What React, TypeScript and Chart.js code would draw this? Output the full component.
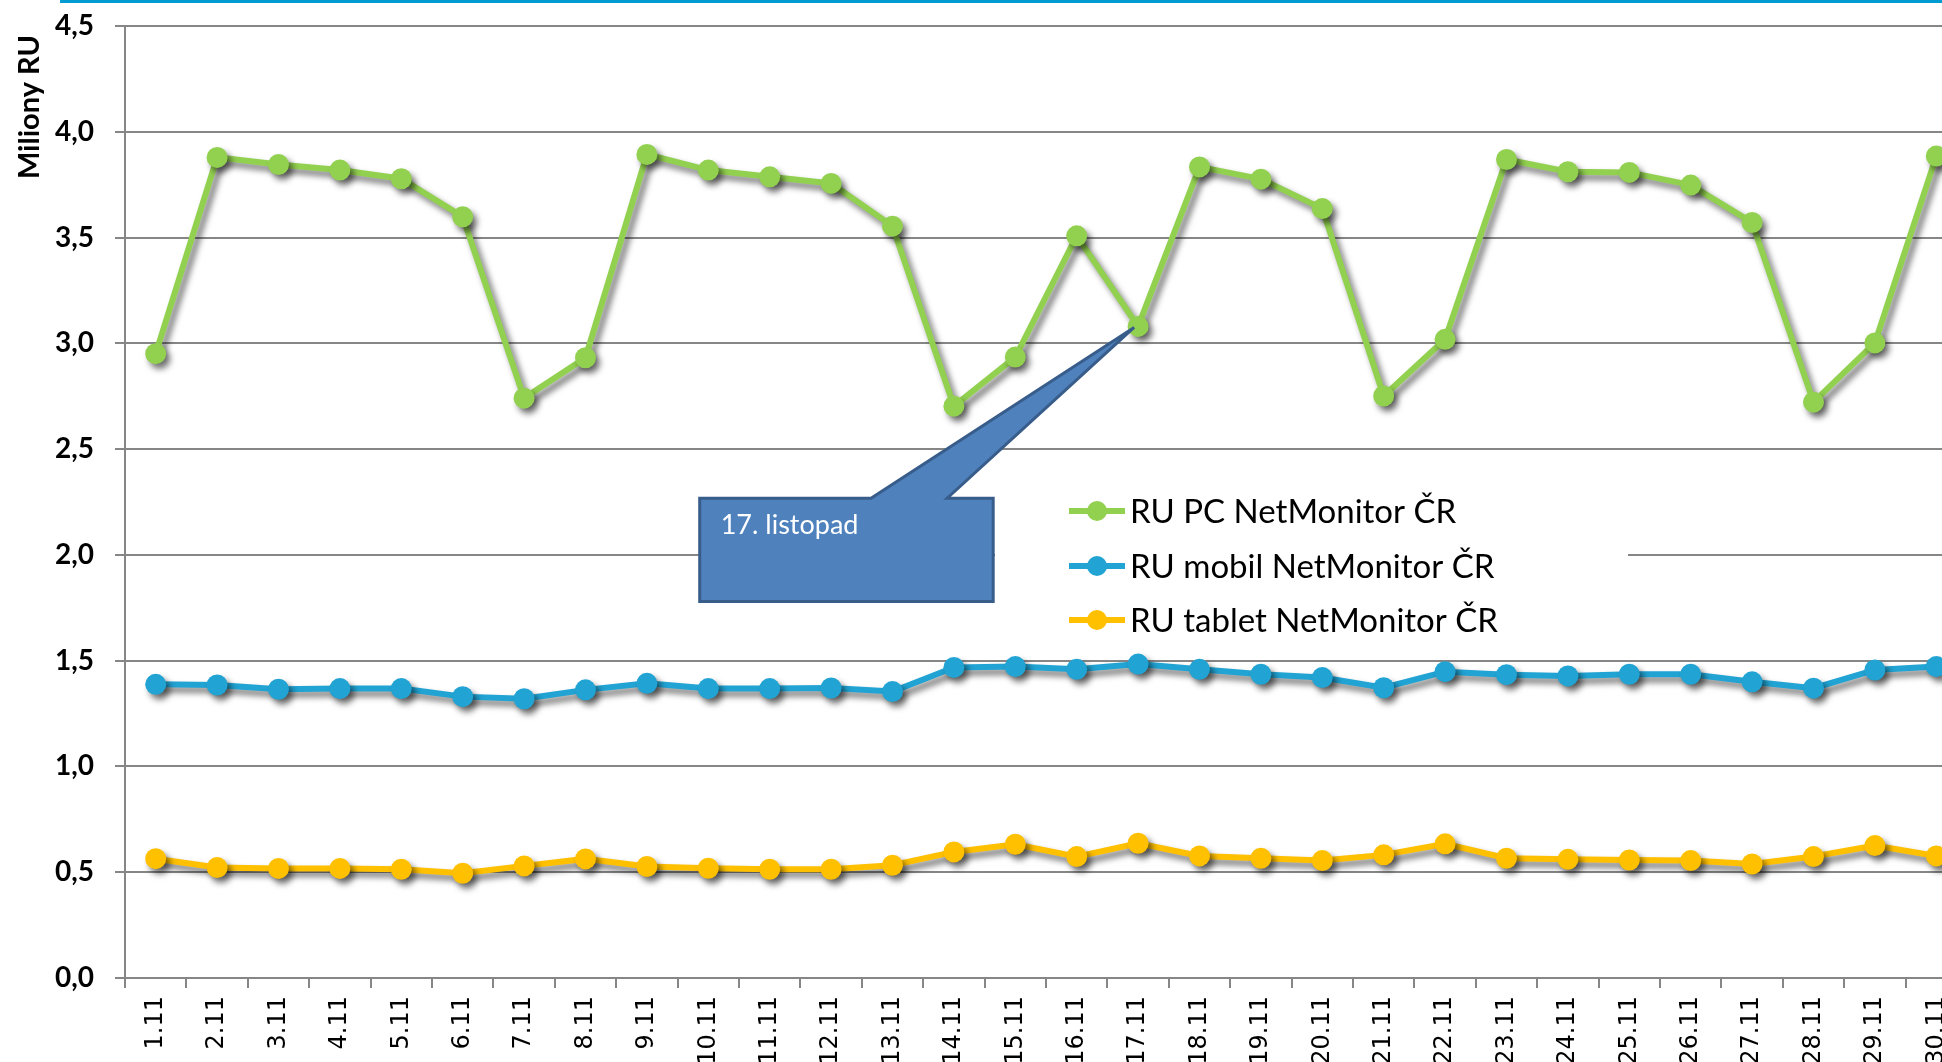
import React, { useEffect, useRef } from "react";
import { Chart, registerables } from "chart.js";

Chart.register(...registerables);

const categories = [
  "1.11", "2.11", "3.11", "4.11", "5.11", "6.11", "7.11", "8.11", "9.11", "10.11",
  "11.11", "12.11", "13.11", "14.11", "15.11", "16.11", "17.11", "18.11", "19.11", "20.11",
  "21.11", "22.11", "23.11", "24.11", "25.11", "26.11", "27.11", "28.11", "29.11", "30.11",
];

const pcValues = [
  2.951, 3.879, 3.845, 3.819, 3.778, 3.598, 2.741, 2.932, 3.893, 3.819,
  3.787, 3.756, 3.554, 2.703, 2.935, 3.508, 3.08, 3.834, 3.776, 3.637,
  2.751, 3.019, 3.869, 3.811, 3.808, 3.748, 3.571, 2.722, 3.002, 3.885,
];

const mobilValues = [
  1.388, 1.385, 1.365, 1.368, 1.368, 1.33, 1.32, 1.362, 1.393, 1.368,
  1.368, 1.371, 1.354, 1.468, 1.472, 1.459, 1.484, 1.459, 1.436, 1.42,
  1.372, 1.448, 1.434, 1.428, 1.436, 1.436, 1.4, 1.37, 1.456, 1.472,
];

const tabletValues = [
  0.564, 0.522, 0.518, 0.518, 0.514, 0.495, 0.53, 0.563, 0.527, 0.519,
  0.514, 0.514, 0.533, 0.596, 0.632, 0.574, 0.637, 0.577, 0.566, 0.555,
  0.582, 0.634, 0.566, 0.561, 0.558, 0.555, 0.539, 0.574, 0.626, 0.577,
];

const seriesNames = ["RU PC NetMonitor ČR", "RU mobil NetMonitor ČR", "RU tablet NetMonitor ČR"];
const seriesColors = ["#92D050", "#21A3D3", "#FFC000"];

const yAxisTitle = "Miliony RU";
const yMin = 0;
const yMax = 4.5;
const yStep = 0.5;

// Callout annotation (anchored to a data point, box given in data units)
const calloutText = "17. listopad";
const calloutIndex = 16;
const calloutBox = { xFrom: 8.86, xTo: 13.64, yTop: 2.268, yBottom: 1.78 };
const calloutBase = { xFrom: 11.65, xTo: 12.89 };

const W = 1985;
const H = 1062;
const AXIS_LEFT = 125;
const PAD_TOP = 26;
const AREA_BOTTOM = 978;
const AREA_RIGHT = 1967;

const GRID = "#868686";

const shadowPlugin = {
  id: "shadowPlugin",
  beforeDatasetDraw(chart: any) {
    const ctx = chart.ctx;
    ctx.save();
    ctx.shadowColor = "rgba(0,0,0,0.55)";
    ctx.shadowBlur = 6;
    ctx.shadowOffsetX = 4;
    ctx.shadowOffsetY = 5;
  },
  afterDatasetDraw(chart: any) {
    chart.ctx.restore();
  },
};

const titlePlugin = {
  id: "yTitle",
  afterDraw(chart: any) {
    const ctx = chart.ctx;
    const area = chart.chartArea;
    ctx.save();
    ctx.translate(30, area.top + 9);
    ctx.rotate(-Math.PI / 2);
    ctx.fillStyle = "#000000";
    ctx.font = "bold 29px Lato";
    ctx.textAlign = "right";
    ctx.textBaseline = "middle";
    ctx.fillText(yAxisTitle, 0, 0);
    ctx.restore();
  },
};

const legendPlugin = {
  id: "customLegend",
  afterDatasetsDraw(chart: any) {
    const ctx = chart.ctx;
    ctx.save();
    ctx.fillStyle = "#ffffff";
    ctx.fillRect(995, 470, 633, 178);
    const rows = [511, 566, 620];
    chart.data.datasets.forEach((ds: any, i: number) => {
      const y = rows[i];
      ctx.strokeStyle = ds.borderColor;
      ctx.lineWidth = 6;
      ctx.beginPath();
      ctx.moveTo(1069, y);
      ctx.lineTo(1125, y);
      ctx.stroke();
      ctx.fillStyle = ds.backgroundColor;
      ctx.beginPath();
      ctx.arc(1097, y, 10, 0, Math.PI * 2);
      ctx.fill();
      ctx.fillStyle = "#000000";
      ctx.font = "33px Lato";
      ctx.textBaseline = "middle";
      ctx.textAlign = "left";
      ctx.fillText(ds.label, 1130, y + 1);
    });
    ctx.restore();
  },
};

const calloutPlugin = {
  id: "callout",
  afterDraw(chart: any) {
    const ctx = chart.ctx;
    const xs = chart.scales.x;
    const ys = chart.scales.y;
    const l = xs.getPixelForValue(calloutBox.xFrom);
    const r = xs.getPixelForValue(calloutBox.xTo);
    const t = ys.getPixelForValue(calloutBox.yTop);
    const b = ys.getPixelForValue(calloutBox.yBottom);
    const b1 = xs.getPixelForValue(calloutBase.xFrom);
    const b2 = xs.getPixelForValue(calloutBase.xTo);
    const tipX = xs.getPixelForValue(calloutIndex) - 4;
    const tipY = ys.getPixelForValue(pcValues[calloutIndex]) + 1;
    ctx.save();
    ctx.beginPath();
    ctx.moveTo(l, t);
    ctx.lineTo(b1, t);
    ctx.lineTo(tipX, tipY);
    ctx.lineTo(b2, t);
    ctx.lineTo(r, t);
    ctx.lineTo(r, b);
    ctx.lineTo(l, b);
    ctx.closePath();
    ctx.fillStyle = "#4F81BD";
    ctx.fill();
    ctx.lineWidth = 3;
    ctx.lineJoin = "miter";
    ctx.strokeStyle = "#385D8A";
    ctx.stroke();
    ctx.fillStyle = "#ffffff";
    ctx.font = "27px Lato";
    ctx.textAlign = "left";
    ctx.textBaseline = "alphabetic";
    ctx.fillText(calloutText, l + 21, t + 36);
    ctx.restore();
  },
};

export default function App() {
  const canvasRef = useRef<HTMLCanvasElement | null>(null);

  useEffect(() => {
    document.body.style.margin = "0";
    document.body.style.overflow = "hidden";
    const canvas = canvasRef.current;
    if (!canvas) return;
    const values = [pcValues, mobilValues, tabletValues];
    const chart = new Chart(canvas, {
      type: "line",
      data: {
        labels: categories,
        datasets: values.map((v, i) => ({
          label: seriesNames[i],
          data: v,
          borderColor: seriesColors[i],
          backgroundColor: seriesColors[i],
          borderWidth: 6,
          pointRadius: 10.5,
          pointBorderWidth: 0,
          pointBackgroundColor: seriesColors[i],
          pointBorderColor: seriesColors[i],
          tension: 0,
          fill: false,
          clip: false as any,
        })),
      },
      options: {
        responsive: false,
        animation: false,
        devicePixelRatio: 1,
        events: [],
        layout: { padding: { top: PAD_TOP, right: W - AREA_RIGHT, left: 0, bottom: 0 } },
        plugins: {
          legend: { display: false },
          tooltip: { enabled: false },
          title: { display: false },
        },
        scales: {
          x: {
            type: "category",
            offset: true,
            afterFit(s: any) {
              s.height = H - AREA_BOTTOM;
              s.paddingLeft = 0;
              s.paddingRight = 0;
            },
            grid: {
              display: true,
              offset: true,
              drawOnChartArea: false,
              drawTicks: true,
              tickLength: 10,
              color: GRID,
              lineWidth: 2,
            },
            border: { display: true, color: GRID, width: 2 },
            ticks: {
              autoSkip: false,
              maxRotation: 90,
              minRotation: 90,
              padding: 8,
              color: "#000000",
              font: { family: "'DejaVu Sans', Verdana, sans-serif", size: 24 },
            },
          },
          y: {
            min: yMin,
            max: yMax,
            afterFit(s: any) {
              s.width = AXIS_LEFT;
              s.paddingTop = 0;
              s.paddingBottom = 0;
            },
            grid: {
              color: GRID,
              lineWidth: 2,
              tickLength: 10,
              drawTicks: true,
            },
            border: { display: true, color: GRID, width: 2 },
            ticks: {
              stepSize: yStep,
              padding: 21,
              color: "#000000",
              font: { family: "Lato", size: 28, weight: "bold" },
              callback: (v: any) => Number(v).toFixed(1).replace(".", ","),
            },
          },
        },
      },
      plugins: [shadowPlugin, legendPlugin, calloutPlugin, titlePlugin],
    } as any);
    return () => chart.destroy();
  }, []);

  return (
    <div style={{ position: "relative", width: 1942, height: 1062, overflow: "hidden", background: "#fff" }}>
      <div style={{ position: "absolute", left: 60, top: 0, right: 0, height: 3, background: "#009CD1" }} />
      <canvas ref={canvasRef} width={W} height={H} style={{ display: "block", width: W, height: H }} />
    </div>
  );
}
